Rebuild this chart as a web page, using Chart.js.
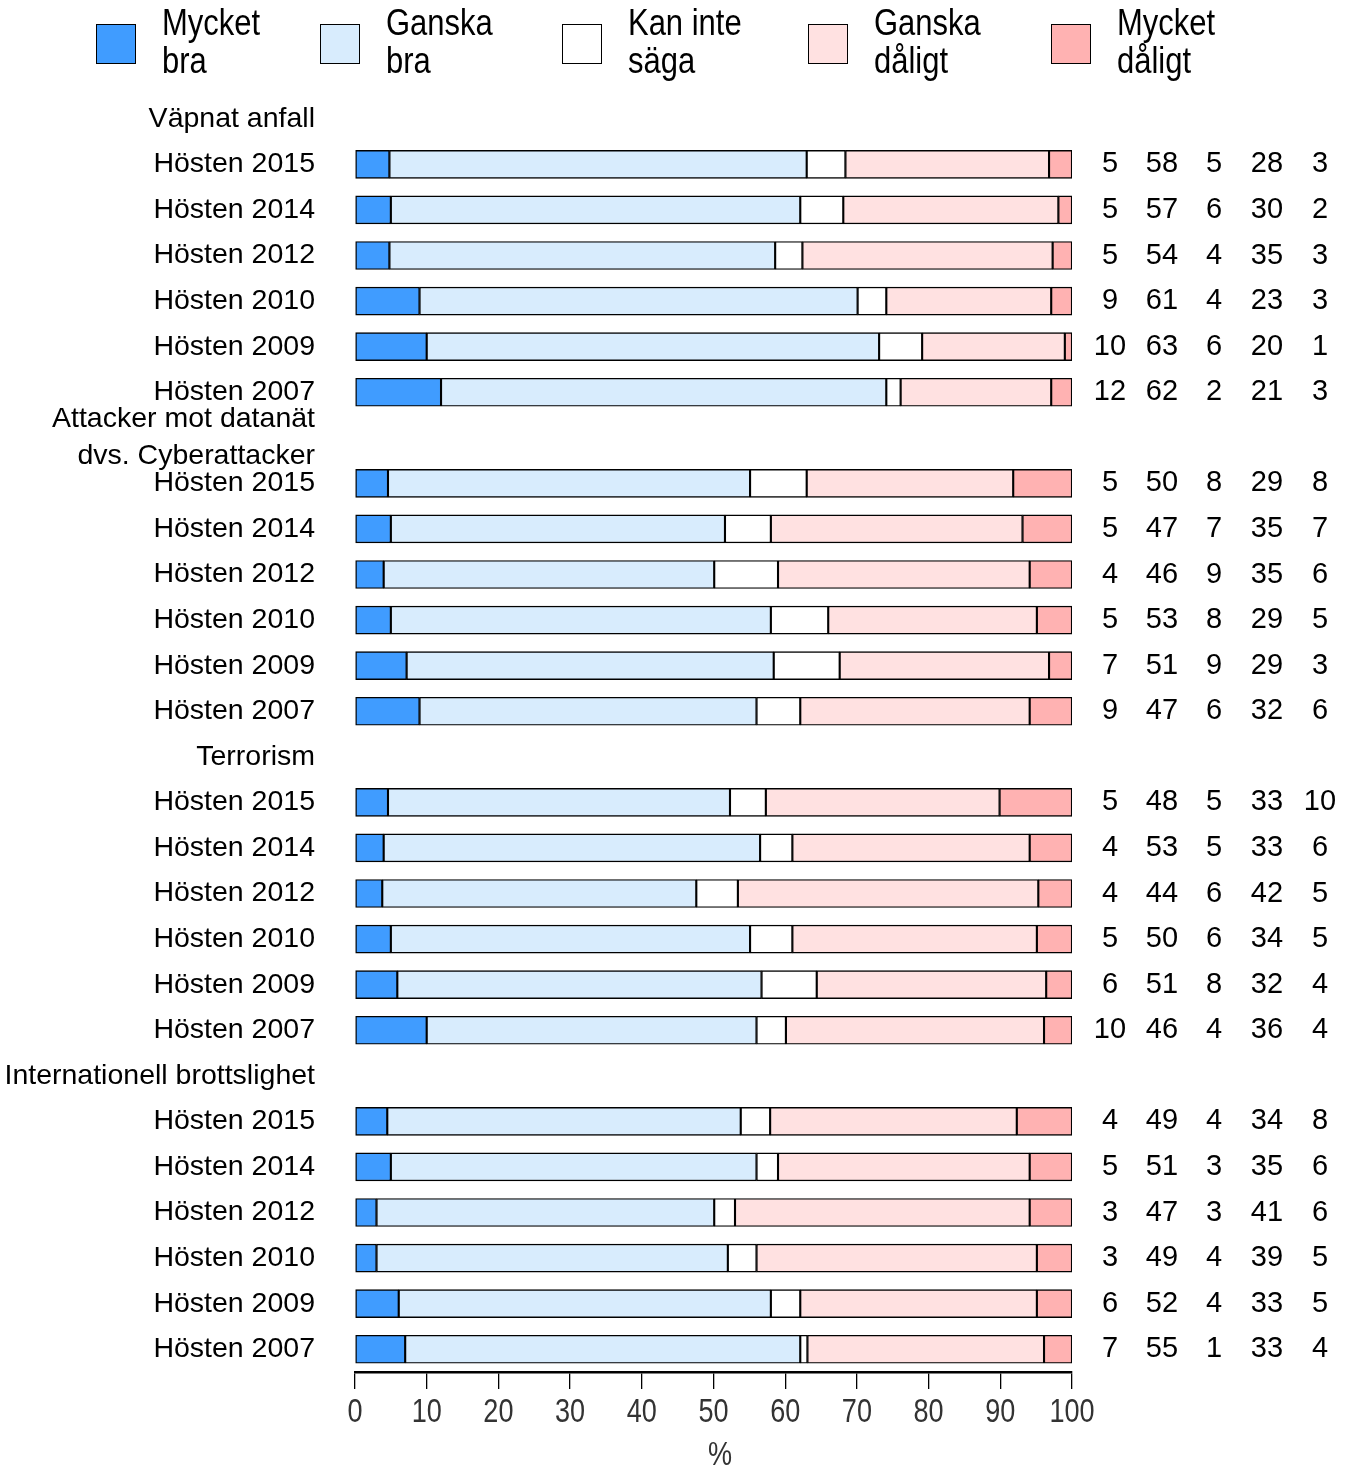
<!DOCTYPE html>
<html>
<head>
<meta charset="utf-8">
<script src="https://cdn.jsdelivr.net/npm/chart.js@4.4.0/dist/chart.umd.min.js"></script>
<style>
  body { margin: 0; background: #fff; }
  #wrap { position: relative; width: 1349px; height: 1468px; }
  #legend { position: absolute; left: 0; top: 0; width: 1349px; height: 90px; }
  .box { position: absolute; top: 24px; width: 38px; height: 38px; border: 1.5px solid #000; }
  .txt { position: absolute; top: 4px; font-family: "Liberation Sans", Arial, sans-serif;
         font-size: 36px; line-height: 38px; color: #000; white-space: nowrap;
         transform: scaleX(0.86); transform-origin: 0 0; }
</style>
</head>
<body>
<div id="wrap">
  <canvas id="chart" width="1349" height="1468"></canvas>
  <div id="legend"></div>
</div>
<script>
// Categories
const groupNames = ["Väpnat anfall", ["Attacker mot datanät", "dvs. Cyberattacker"], "Terrorism", "Internationell brottslighet"];
const years = ["Hösten 2015", "Hösten 2014", "Hösten 2012", "Hösten 2010", "Hösten 2009", "Hösten 2007"];
const seriesNames = [["Mycket", "bra"], ["Ganska", "bra"], ["Kan inte", "säga"], ["Ganska", "dåligt"], ["Mycket", "dåligt"]];
const seriesColors = ["#409cff", "#d8ecfd", "#ffffff", "#ffe1e1", "#ffb2b2"];

// Bar lengths (per group: 2015, 2014, 2012, 2010, 2009, 2007)
const mycketBra = [4.8, 5.0, 4.8, 9.0, 10.0, 12.0,  4.6, 5.0, 4.0, 5.0, 7.2, 9.0,  4.6, 4.0, 3.8, 5.0, 5.9, 10.0,  4.5, 5.0, 3.0, 3.0, 6.1, 7.0];
const ganskaBra = [58.2, 57.1, 53.8, 61.1, 63.1, 62.1,  50.5, 46.6, 46.1, 53.0, 51.2, 47.0,  47.7, 52.5, 43.8, 50.1, 50.8, 46.0,  49.3, 51.0, 47.1, 49.0, 51.9, 55.1];
const kanInte = [5.4, 6.0, 3.8, 4.0, 6.0, 2.0,  7.9, 6.4, 8.9, 8.0, 9.2, 6.1,  5.0, 4.5, 5.8, 5.9, 7.7, 4.1,  4.1, 3.0, 2.9, 4.0, 4.1, 1.0];
const ganskaDaligt = [28.4, 30.0, 34.9, 23.0, 19.9, 21.0,  28.8, 35.1, 35.1, 29.1, 29.2, 32.0,  32.6, 33.1, 41.9, 34.1, 32.0, 36.0,  34.4, 35.1, 41.1, 39.1, 33.0, 33.0];
const mycketDaligt = [3.2, 1.9, 2.7, 2.9, 1.0, 2.9,  8.2, 6.9, 5.9, 4.9, 3.2, 5.9,  10.1, 5.9, 4.7, 4.9, 3.6, 3.9,  7.7, 5.9, 5.9, 4.9, 4.9, 3.9];

// Numbers printed to the right of the bars
const printedMB = [5, 5, 5, 9, 10, 12,  5, 5, 4, 5, 7, 9,  5, 4, 4, 5, 6, 10,  4, 5, 3, 3, 6, 7];
const printedGB = [58, 57, 54, 61, 63, 62,  50, 47, 46, 53, 51, 47,  48, 53, 44, 50, 51, 46,  49, 51, 47, 49, 52, 55];
const printedKI = [5, 6, 4, 4, 6, 2,  8, 7, 9, 8, 9, 6,  5, 5, 6, 6, 8, 4,  4, 3, 3, 4, 4, 1];
const printedGD = [28, 30, 35, 23, 20, 21,  29, 35, 35, 29, 29, 32,  33, 33, 42, 34, 32, 36,  34, 35, 41, 39, 33, 33];
const printedMD = [3, 2, 3, 3, 1, 3,  8, 7, 6, 5, 3, 6,  10, 6, 5, 5, 4, 4,  8, 6, 6, 5, 5, 4];

const xTicks = [0, 10, 20, 30, 40, 50, 60, 70, 80, 90, 100];
const xTitle = "%";

// Build rows: a header slot per group, then the six years
const labels = [];
const rowIndex = []; // index into the 24-value arrays, or -1 for header
groupNames.forEach(function (g, gi) {
    labels.push(g);
    rowIndex.push(-1);
    years.forEach(function (y, yi) {
        labels.push(y);
        rowIndex.push(gi * years.length + yi);
    });
});

function expand(arr) {
    return rowIndex.map(function (r) { return r < 0 ? null : arr[r]; });
}

const allValues = [mycketBra, ganskaBra, kanInte, ganskaDaligt, mycketDaligt];
const allPrinted = [printedMB, printedGB, printedKI, printedGD, printedMD];

const datasets = allValues.map(function (vals, i) {
    return {
        label: seriesNames[i].join(" "),
        data: expand(vals),
        backgroundColor: seriesColors[i],
        borderColor: "#000",
        borderWidth: 1.4,
        borderSkipped: false,
        barThickness: 28
    };
});

// Legend (HTML)
const legendX = [96, 320, 562, 808, 1051];
const legend = document.getElementById("legend");
seriesNames.forEach(function (n, i) {
    const box = document.createElement("div");
    box.className = "box";
    box.style.left = legendX[i] + "px";
    box.style.background = seriesColors[i];
    legend.appendChild(box);
    const t = document.createElement("div");
    t.className = "txt";
    t.style.left = (legendX[i] + 66) + "px";
    t.innerHTML = n[0] + "<br>" + n[1];
    legend.appendChild(t);
});

// Numbers to the right of each bar
const colOffsets = [38, 90, 142, 195, 248];
const numbersPlugin = {
    id: "numbers",
    afterDatasetsDraw: function (chart) {
        const ctx = chart.ctx;
        const yScale = chart.scales.y;
        const right = chart.chartArea.right;
        ctx.save();
        ctx.font = "29px 'Liberation Sans', Arial, sans-serif";
        ctx.fillStyle = "#000";
        ctx.textAlign = "center";
        ctx.textBaseline = "middle";
        rowIndex.forEach(function (r, i) {
            if (r < 0) return;
            const y = yScale.getPixelForValue(i);
            allPrinted.forEach(function (arr, k) {
                ctx.fillText(String(arr[r]), right + colOffsets[k], y);
            });
        });
        ctx.restore();
    }
};

// Narrow-looking x tick labels and axis title
const xLabelsPlugin = {
    id: "xlabels",
    afterDraw: function (chart) {
        const ctx = chart.ctx;
        const xScale = chart.scales.x;
        const sx = 0.82;
        ctx.save();
        ctx.font = "33px 'Liberation Sans', Arial, sans-serif";
        ctx.fillStyle = "#333";
        ctx.textAlign = "center";
        ctx.textBaseline = "middle";
        ctx.scale(sx, 1);
        xTicks.forEach(function (v) {
            ctx.fillText(String(v), xScale.getPixelForValue(v) / sx, xScale.top + 41);
        });
        ctx.fillText(xTitle, (chart.chartArea.left + chart.chartArea.right) / 2 / sx + 8, xScale.top + 84);
        ctx.restore();
    }
};

const chart = new Chart(document.getElementById("chart").getContext("2d"), {
    type: "bar",
    data: { labels: labels, datasets: datasets },
    options: {
        indexAxis: "y",
        responsive: false,
        animation: false,
        layout: { padding: { top: 96, right: 277, left: 0, bottom: 0 } },
        plugins: {
            legend: { display: false },
            tooltip: { enabled: false }
        },
        scales: {
            x: {
                stacked: true,
                min: 0,
                max: 100,
                afterBuildTicks: function (scale) {
                    scale.ticks = xTicks.map(function (v) { return { value: v }; });
                },
                afterFit: function (scale) { scale.height = 96; },
                grid: { drawOnChartArea: false, drawTicks: true, tickLength: 17, color: "#000", lineWidth: 1.3 },
                border: { display: true, color: "#000", width: 2.5 },
                ticks: { display: false },
                title: { display: false }
            },
            y: {
                stacked: true,
                afterFit: function (scale) { scale.width = 355; },
                grid: { display: false, drawTicks: false },
                border: { display: false },
                ticks: {
                    padding: 40,
                    color: "#000",
                    autoSkip: false,
                    font: { family: "'Liberation Sans', Arial, sans-serif", size: 28.5, lineHeight: 1.3 }
                }
            }
        }
    },
    plugins: [numbersPlugin, xLabelsPlugin]
});
</script>
</body>
</html>
